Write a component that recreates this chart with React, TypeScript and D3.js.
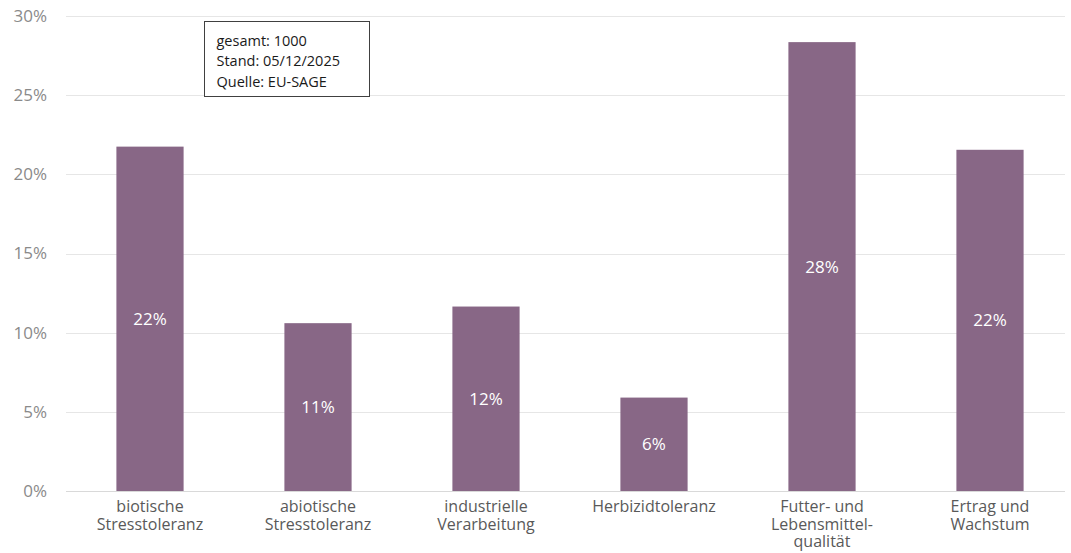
import { useEffect, useRef } from "react";
import * as d3 from "d3";

// Kategorien und Werte (Anteil in %)
const categories = [
  "biotische Stresstoleranz",
  "abiotische Stresstoleranz",
  "industrielle Verarbeitung",
  "Herbizidtoleranz",
  "Futter- und Lebensmittel-qualität",
  "Ertrag und Wachstum",
];
const categoryLines = [
  ["biotische", "Stresstoleranz"],
  ["abiotische", "Stresstoleranz"],
  ["industrielle", "Verarbeitung"],
  ["Herbizidtoleranz"],
  ["Futter- und", "Lebensmittel-", "qualität"],
  ["Ertrag und", "Wachstum"],
];
const values = [21.75, 10.6, 11.65, 5.9, 28.35, 21.55];
const yTicks = [0, 5, 10, 15, 20, 25, 30];
const infoLines = ["gesamt: 1000", "Stand: 05/12/2025", "Quelle: EU-SAGE"];

const W = 1071;
const H = 553;
const FONT = "'Open Sans', 'Noto Sans', sans-serif";

export default function App() {
  const svgRef = useRef<SVGSVGElement>(null);

  useEffect(() => {
    if (!svgRef.current) return;
    const svg = d3.select(svgRef.current);
    svg.selectAll("*").remove();

    const margin = { top: 16, right: -3, bottom: 62, left: 66 };
    const chartW = W - margin.left - margin.right;
    const chartH = H - margin.top - margin.bottom;

    const x = d3.scaleBand().domain(categories).range([0, chartW]).paddingInner(0.6).paddingOuter(0.3);
    const y = d3.scaleLinear().domain([0, 30]).range([chartH, 0]);

    const g = svg.append("g").attr("transform", `translate(${margin.left},${margin.top})`);

    // Gitterlinien
    g.selectAll(".grid")
      .data(yTicks)
      .enter()
      .append("line")
      .attr("x1", 0)
      .attr("x2", chartW - 9)
      .attr("y1", (d) => Math.round(y(d)) + 0.5)
      .attr("y2", (d) => Math.round(y(d)) + 0.5)
      .style("stroke", (d) => (d === 0 ? "#d9d9d9" : "#e6e6e6"))
      .style("stroke-width", 1);

    // Y-Achse Beschriftung
    g.selectAll(".ytick")
      .data(yTicks)
      .enter()
      .append("text")
      .attr("x", -19)
      .attr("y", (d) => y(d))
      .attr("dy", "0.35em")
      .attr("text-anchor", "end")
      .style("fill", "#8a8a8a")
      .style("font-size", "17px")
      .style("font-family", FONT)
      .text((d) => `${d}%`);

    // Balken
    g.selectAll(".bar")
      .data(values)
      .enter()
      .append("rect")
      .attr("x", (_, i) => x(categories[i]) || 0)
      .attr("y", (d) => y(d))
      .attr("width", x.bandwidth())
      .attr("height", (d) => chartH - y(d))
      .attr("fill", "#886786");

    // Werte in den Balken
    g.selectAll(".val")
      .data(values)
      .enter()
      .append("text")
      .attr("x", (_, i) => (x(categories[i]) || 0) + x.bandwidth() / 2)
      .attr("y", (d) => (y(d) + chartH) / 2)
      .attr("dy", "0.35em")
      .attr("text-anchor", "middle")
      .style("fill", "#ffffff")
      .style("font-size", "17px")
      .style("font-family", FONT)
      .text((d) => `${Math.round(d)}%`);

    // Kategorien
    categories.forEach((c, i) => {
      const cx = (x(c) || 0) + x.bandwidth() / 2;
      const t = g
        .append("text")
        .attr("text-anchor", "middle")
        .style("fill", "#595959")
        .style("font-size", "16px")
        .style("font-family", FONT);
      categoryLines[i].forEach((line, j) => {
        t.append("tspan")
          .attr("x", cx)
          .attr("y", chartH + 21 + j * 17.5)
          .text(line);
      });
    });

    // Infobox
    const box = svg.append("g").attr("transform", "translate(204.5,21.5)");
    box.append("rect")
      .attr("width", 165)
      .attr("height", 75)
      .attr("fill", "#ffffff")
      .style("stroke", "#404040")
      .style("stroke-width", 1);
    infoLines.forEach((line, i) => {
      box.append("text")
        .attr("x", 12)
        .attr("y", 24 + i * 20.5)
        .style("fill", "#1a1a1a")
        .style("font-size", "14.5px")
        .style("font-family", FONT)
        .text(line);
    });
  }, []);

  return (
    <svg
      ref={svgRef}
      width={W}
      height={H}
      style={{ position: "absolute", left: 0, top: 0, background: "#fff" }}
    />
  );
}
